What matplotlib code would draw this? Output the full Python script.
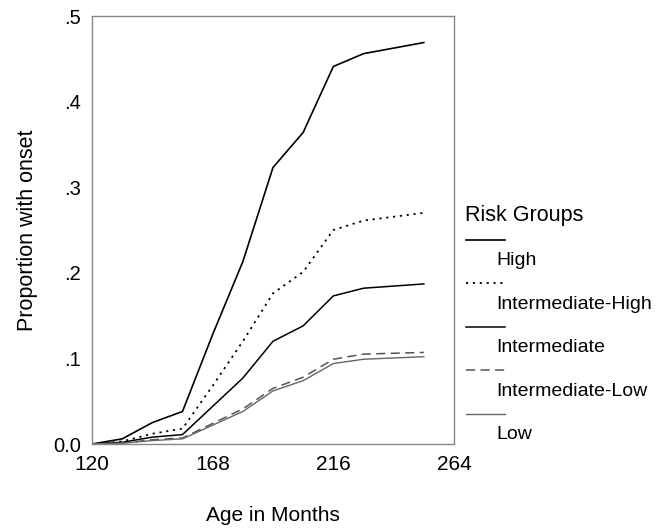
import matplotlib
matplotlib.use("Agg")
import matplotlib.pyplot as plt
from matplotlib.lines import Line2D

plt.rcParams['font.family'] = ['Liberation Sans', 'DejaVu Sans']

months = [120, 132, 144, 156, 168, 180, 192, 204, 216, 228, 252]
groups = ["High", "Intermediate-High", "Intermediate", "Intermediate-Low", "Low"]
high = [0.0, 0.006, 0.025, 0.038, 0.128, 0.213, 0.323, 0.364, 0.441, 0.456, 0.469]
inter_high = [0.0, 0.003, 0.012, 0.018, 0.068, 0.120, 0.176, 0.201, 0.250, 0.261, 0.270]
inter = [0.0, 0.002, 0.008, 0.011, 0.044, 0.077, 0.120, 0.138, 0.173, 0.182, 0.187]
inter_low = [0.0, 0.001, 0.005, 0.007, 0.024, 0.041, 0.065, 0.078, 0.099, 0.105, 0.107]
low = [0.0, 0.001, 0.004, 0.006, 0.022, 0.038, 0.062, 0.074, 0.094, 0.099, 0.102]
series = [high, inter_high, inter, inter_low, low]

xticks = [120, 168, 216, 264]
yticks = [0.0, 0.1, 0.2, 0.3, 0.4, 0.5]
ytick_labels = ["0.0", ".1", ".2", ".3", ".4", ".5"]

styles = [
    dict(color="black", lw=1.2, ls="-"),
    dict(color="black", lw=1.3, ls=(0, (1.2, 2.6))),
    dict(color="black", lw=1.1, ls="-"),
    dict(color="#555555", lw=1.1, ls=(0, (6, 3.5))),
    dict(color="#666666", lw=1.0, ls="-"),
]

W, H = 665, 530
fig = plt.figure(figsize=(W / 100, H / 100), dpi=100)
ax = fig.add_axes([92 / W, 1 - 444 / H, (454 - 92) / W, (444 - 16) / H])

for vals, st in zip(series, styles):
    ax.plot(months, vals, color=st["color"], lw=st["lw"], linestyle=st["ls"],
            solid_joinstyle="miter")

ax.set_xlim(120, 264)
ax.set_ylim(0, 0.5)
ax.set_xticks(xticks)
ax.set_xticklabels([str(t) for t in xticks], fontsize=15)
ax.set_yticks(yticks)
ax.set_yticklabels(ytick_labels, fontsize=14.5)
ax.tick_params(length=0, pad=8)
ax.tick_params(axis="y", pad=8)
for s in ax.spines.values():
    s.set_color("#888888")
    s.set_linewidth(1.0)

ax.set_xlabel("Age in Months", fontsize=15, labelpad=23)
ax.set_ylabel("Proportion with onset", fontsize=15.5, labelpad=11)

# legend drawn in figure pixel coordinates (handle above label)
fig.text(465 / W, 1 - 215 / H, "Risk Groups", fontsize=15.5, ha="left", va="center")
for i, (name, st) in enumerate(zip(groups, styles)):
    ly = 239.5 + 43.6 * i
    fig.add_artist(Line2D([466 / W, 505 / W], [1 - ly / H, 1 - ly / H],
                          color=st["color"], lw=st["lw"], linestyle=st["ls"],
                          transform=fig.transFigure))
    fig.text(496 / W, 1 - (ly + 21) / H, name, fontsize=14, ha="left", va="center")

fig.savefig("out.png", dpi=100)
